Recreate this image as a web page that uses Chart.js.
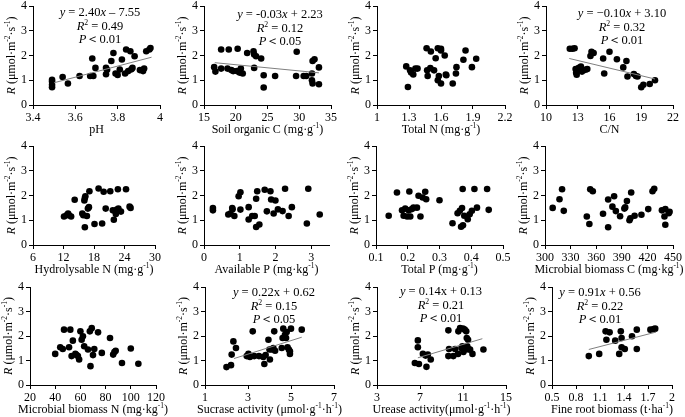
<!DOCTYPE html>
<html>
<head>
<meta charset="utf-8">
<script src="https://cdn.jsdelivr.net/npm/chart.js@4/dist/chart.umd.min.js"></script>
<style>
  html, body { margin: 0; padding: 0; background: #fff; }
  #wrap { position: relative; width: 685px; height: 417px; overflow: hidden; }
  canvas { position: absolute; }
</style>
</head>
<body>
<div id="wrap"></div>
<script>
// --- data: x = soil factor, R = soil respiration ---
const phX = [3.49, 3.49, 3.49, 3.49, 3.54, 3.565, 3.62, 3.67, 3.68, 3.685, 3.695, 3.745, 3.745, 3.75, 3.77, 3.78, 3.79, 3.80, 3.81, 3.82, 3.835, 3.84, 3.85, 3.86, 3.865, 3.87, 3.88, 3.905, 3.92, 3.925, 3.935, 3.95, 3.955];
const phR = [0.72, 0.82, 0.95, 1.02, 1.13, 0.87, 1.17, 1.17, 1.88, 1.17, 1.5, 1.24, 1.5, 1.42, 1.78, 2.1, 1.27, 1.21, 1.43, 1.84, 1.27, 2.24, 1.37, 2.17, 1.44, 1.5, 1.97, 1.41, 1.37, 1.47, 2.17, 2.24, 2.3];

const socX = [16.6, 16.8, 17.7, 17.7, 18.9, 18.7, 19.3, 19.6, 20.2, 20.3, 20.6, 20.8, 21.1, 21.8, 22.8, 22.9, 22.9, 23.2, 24.0, 24.4, 24.4, 26.2, 29.5, 29.6, 30.7, 31.1, 32.0, 32.1, 32.4, 32.0, 32.1, 33.1, 33.1];
const socR = [1.53, 1.35, 2.24, 1.47, 2.24, 1.47, 1.41, 1.37, 1.37, 2.27, 1.31, 1.47, 1.27, 2.1, 2.17, 2.04, 1.5, 1.97, 1.88, 1.2, 0.71, 1.17, 1.17, 2.15, 1.17, 1.17, 1.27, 1.78, 1.85, 1.0, 0.87, 1.52, 0.84];

const tnX = [1.274, 1.29, 1.31, 1.32, 1.34, 1.36, 1.38, 1.465, 1.47, 1.475, 1.50, 1.505, 1.535, 1.55, 1.57, 1.57, 1.58, 1.60, 1.60, 1.60, 1.635, 1.645, 1.65, 1.71, 1.74, 1.745, 1.81, 1.83, 1.89, 1.93];
const tnR = [1.56, 0.73, 1.4, 1.31, 1.23, 1.47, 1.47, 2.29, 1.4, 1.17, 1.49, 2.16, 1.4, 1.89, 2.29, 1.0, 1.17, 2.27, 2.2, 0.87, 2.0, 1.23, 1.2, 0.87, 1.27, 1.53, 1.83, 2.2, 1.53, 1.87];

const cnX = [12.25, 12.5, 12.7, 12.8, 12.85, 12.9, 12.95, 13.1, 13.2, 13.3, 13.4, 13.7, 13.9, 14.2, 14.3, 14.5, 15.4, 15.5, 16.0, 16.7, 17.3, 17.6, 17.7, 18.3, 18.5, 18.65, 19.0, 19.2, 19.8, 20.3];
const cnR = [2.27, 2.27, 2.29, 1.45, 1.3, 1.22, 1.38, 1.5, 1.42, 1.55, 1.35, 1.42, 1.45, 1.98, 2.15, 2.1, 1.88, 1.27, 2.15, 1.85, 1.52, 1.78, 1.15, 1.25, 1.17, 1.15, 0.72, 0.82, 0.85, 1.0];

const hnX = [12.1, 12.6, 12.9, 13.1, 13.5, 14.2, 15.7, 15.9, 16.1, 16.2, 16.3, 16.2, 16.6, 16.8, 17.0, 17.1, 18.1, 18.9, 19.6, 19.9, 20.3, 21.2, 21.7, 21.9, 22.3, 22.5, 22.7, 22.8, 23.3, 24.3, 25.0, 25.2];
const hnR = [1.15, 1.2, 1.27, 1.2, 1.15, 1.83, 1.27, 1.2, 1.8, 1.9, 1.97, 0.72, 1.17, 1.47, 1.53, 2.17, 0.85, 2.28, 0.87, 2.15, 1.47, 2.17, 1.4, 1.02, 1.25, 1.43, 2.25, 1.47, 1.35, 2.25, 1.55, 1.5];

const apX = [0.25, 0.25, 0.68, 0.74, 0.79, 0.8, 0.85, 0.97, 1.02, 1.02, 1.25, 1.25, 1.35, 1.42, 1.46, 1.49, 1.46, 1.55, 1.7, 1.76, 1.86, 1.88, 1.95, 2.0, 2.07, 2.2, 2.27, 2.37, 2.46, 2.88, 2.92, 3.24];
const apR = [1.49, 1.4, 1.23, 1.27, 1.49, 1.44, 1.17, 1.97, 2.13, 1.43, 1.53, 1.03, 1.17, 1.17, 1.87, 2.17, 0.73, 0.83, 2.23, 1.36, 2.17, 1.84, 1.27, 1.8, 1.44, 1.37, 2.27, 1.17, 1.53, 0.87, 2.27, 1.23];

const tpX = [0.14, 0.166, 0.182, 0.187, 0.192, 0.198, 0.203, 0.205, 0.208, 0.213, 0.218, 0.229, 0.234, 0.24, 0.247, 0.255, 0.258, 0.3, 0.341, 0.357, 0.364, 0.371, 0.373, 0.368, 0.374, 0.378, 0.389, 0.395, 0.402, 0.41, 0.418, 0.45, 0.455];
const tpR = [1.18, 2.12, 1.4, 1.18, 1.47, 1.15, 1.4, 2.16, 1.15, 1.45, 1.51, 1.51, 1.99, 1.15, 1.92, 2.15, 1.85, 1.81, 0.88, 1.28, 1.38, 1.49, 2.26, 0.74, 0.8, 1.18, 1.04, 1.24, 1.38, 2.26, 1.51, 2.26, 1.42];

const mbcX = [309, 317, 320, 322, 349, 352, 353, 356, 368, 374, 374, 379, 381, 383, 388, 393, 394, 396, 399, 400, 401, 405, 413, 421, 426, 428, 437, 440, 441, 441, 445, 446];
const mbcR = [1.5, 1.85, 2.25, 1.38, 1.15, 0.85, 2.25, 2.17, 1.26, 1.84, 0.72, 1.55, 1.97, 1.37, 1.16, 1.47, 1.52, 1.78, 1.0, 1.08, 2.12, 1.18, 1.22, 1.45, 2.17, 2.27, 1.4, 1.15, 1.45, 0.82, 1.28, 1.34];

const mbnX = [40, 44, 46, 47, 51, 52, 53, 54, 56, 57, 58, 59, 60, 61, 62, 63, 66, 67.5, 69, 68, 71, 70, 74, 77, 83.5, 86, 87, 88, 93, 100, 106];
const mbnR = [1.27, 1.54, 1.47, 2.26, 1.54, 2.26, 1.18, 1.81, 1.27, 1.22, 1.18, 1.04, 2.19, 1.85, 1.99, 1.58, 1.45, 2.19, 2.32, 0.77, 1.47, 1.22, 2.15, 1.31, 1.92, 1.24, 1.35, 1.4, 0.9, 1.49, 0.87];

const sucX = [2.0, 2.21, 2.24, 2.32, 2.44, 2.94, 3.02, 3.09, 3.22, 3.29, 3.51, 3.71, 3.76, 3.82, 3.95, 4.0, 4.02, 4.1, 4.18, 4.22, 4.26, 4.57, 4.61, 4.64, 4.72, 4.77, 4.8, 4.84, 4.9, 4.95, 4.95, 5.0, 5.5];
const sucR = [0.73, 0.81, 1.24, 1.78, 1.51, 1.18, 1.27, 1.14, 2.19, 1.18, 1.18, 1.14, 0.86, 1.22, 1.85, 1.45, 1.04, 1.45, 1.51, 2.19, 1.4, 1.51, 1.92, 2.3, 2.05, 1.92, 2.16, 1.54, 1.45, 1.27, 1.38, 2.3, 2.26];

const ureX = [6.52, 6.9, 6.8, 6.8, 7.27, 7.52, 7.73, 7.6, 8.0, 9.64, 9.64, 9.7, 10.1, 10.26, 10.54, 10.57, 10.73, 10.85, 10.94, 11.0, 11.04, 11.16, 11.25, 11.3, 11.35, 11.4, 11.47, 11.57, 11.66, 11.88, 12.9];
const ureR = [0.9, 0.86, 1.54, 1.82, 1.27, 1.2, 1.24, 0.74, 1.04, 2.23, 1.18, 1.47, 1.18, 1.47, 1.27, 2.19, 2.32, 1.51, 1.58, 2.3, 1.35, 2.26, 1.45, 2.19, 1.92, 1.58, 1.85, 1.45, 1.45, 1.27, 1.45];

const frbX = [0.96, 1.09, 1.17, 1.18, 1.22, 1.29, 1.34, 1.36, 1.37, 1.37, 1.41, 1.5, 1.56, 1.56, 1.73, 1.77, 1.79];
const frbR = [1.18, 1.27, 2.19, 1.85, 2.15, 1.81, 1.27, 2.19, 1.92, 1.54, 1.47, 1.99, 2.26, 1.47, 2.26, 2.28, 2.3];

// fitted lines, two ends each (x, R)
const phFitX = [3.5, 3.96], phFitR = [0.9, 1.93];
const socFitX = [16.7, 33.1], socFitR = [1.71, 1.30];
const cnFitX = [12.2, 20.3], cnFitR = [1.88, 1.05];
const sucFitX = [2.35, 5.5], sucFitR = [1.08, 1.95];
const ureFitX = [6.8, 12.8], ureFitR = [1.11, 1.89];
const frbFitX = [0.96, 1.8], frbFitR = [1.45, 2.16];

const yTitle = '_R_ (μmol·m^{-2}·s^{-1})';

// box = plot area on the page [left, top, right, bottom]
const panels = [
  { x: phX, y: phR, fx: phFitX, fy: phFitR, min: 3.4, max: 4, step: 0.2, title: 'pH', box: [33, 6, 160, 105],
    eq: ['_y_ = 2.40_x_ – 7.55', '_R_^{2} = 0.49', '_P_＜0.01'], eqX: 67, eqY: 7 },
  { x: socX, y: socR, fx: socFitX, fy: socFitR, min: 15, max: 35, step: 5, title: 'Soil organic C (mg·g^{-1})', box: [204, 6, 331, 105],
    eq: ['_y_ = -0.03_x_ + 2.23', '_R_^{2} = 0.12', '_P_＜0.05'], eqX: 76, eqY: 9 },
  { x: tnX, y: tnR, min: 1, max: 2.2, step: 0.3, title: 'Total N (mg·g^{-1})', box: [377, 6, 505, 105] },
  { x: cnX, y: cnR, fx: cnFitX, fy: cnFitR, min: 10, max: 22, step: 3, title: 'C/N', box: [546, 6, 673, 105],
    eq: ['_y_ = −0.10_x_ + 3.10', '_R_^{2} = 0.32', '_P_＜0.01'], eqX: 76, eqY: 8 },
  { x: hnX, y: hnR, min: 6, max: 30, step: 6, title: 'Hydrolysable N (mg·g^{-1})', box: [33, 146, 155, 245] },
  { x: apX, y: apR, min: 0, max: 3.5, step: 1, title: 'Available P (mg·kg^{-1})', box: [204, 146, 329, 245] },
  { x: tpX, y: tpR, min: 0.1, max: 0.5, step: 0.1, title: 'Total P (mg·g^{-1})', box: [376, 146, 503, 245] },
  { x: mbcX, y: mbcR, min: 300, max: 450, step: 30, title: 'Microbial biomass C (mg·kg^{-1})', box: [545, 146, 673, 245] },
  { x: mbnX, y: mbnR, min: 20, max: 120, step: 20, title: 'Microbial biomass N (mg·kg^{-1})', box: [30, 287, 156, 385] },
  { x: sucX, y: sucR, fx: sucFitX, fy: sucFitR, min: 1, max: 7, step: 2, title: 'Sucrase activity (μmol·g^{-1}·h^{-1})', box: [205, 287, 334, 385],
    eq: ['_y_ = 0.22x + 0.62', '_R_^{2} = 0.15', '_P_＜0.05'], eqX: 69, eqY: 6 },
  { x: ureX, y: ureR, fx: ureFitX, fy: ureFitR, min: 3, max: 15, step: 4, title: 'Urease activity(μmol·g^{-1}·h^{-1})', box: [377, 287, 506, 385],
    eq: ['_y_ = 0.14x + 0.13', '_R_^{2} = 0.21', '_P_＜0.01'], eqX: 64, eqY: 5 },
  { x: frbX, y: frbR, fx: frbFitX, fy: frbFitR, min: 0.5, max: 2, step: 0.3, title: 'Fine root biomass (t·ha^{-1})', box: [552, 287, 672, 385],
    eq: ['_y_ = 0.91_x_ + 0.56', '_R_^{2} = 0.22', '_P_＜0.01'], eqX: 48, eqY: 6 }
];

const FONT = '"Liberation Serif", "Times New Roman", "DejaVu Serif", serif';

// _text_ = italic, ^{text} = superscript
function parseRich(s) {
  const segs = [];
  let buf = '', ital = false, i = 0;
  while (i < s.length) {
    const c = s[i];
    if (c === '_') {
      if (buf) segs.push({ t: buf, it: ital, sup: false });
      buf = ''; ital = !ital; i++;
    } else if (c === '^' && s[i + 1] === '{') {
      if (buf) segs.push({ t: buf, it: ital, sup: false });
      buf = '';
      const j = s.indexOf('}', i);
      segs.push({ t: s.slice(i + 2, j), it: ital, sup: true });
      i = j + 1;
    } else { buf += c; i++; }
  }
  if (buf) segs.push({ t: buf, it: ital, sup: false });
  return segs;
}

function drawRich(ctx, s, x, y, size) {
  const segs = parseRich(s);
  const fontOf = g => (g.it ? 'italic ' : '') + (g.sup ? size * 0.62 : size) + 'px ' + FONT;
  let w = 0;
  segs.forEach(g => { ctx.font = fontOf(g); g.w = ctx.measureText(g.t).width; w += g.w; });
  let cx = x - w / 2;
  ctx.textBaseline = 'middle';
  ctx.textAlign = 'left';
  ctx.fillStyle = '#000';
  segs.forEach(g => {
    ctx.font = fontOf(g);
    ctx.fillText(g.t, cx, g.sup ? y - size * 0.32 : y);
    cx += g.w;
  });
}

const panelText = {
  id: 'panelText',
  afterDraw(chart, args, o) {
    const { ctx, chartArea: a } = chart;
    ctx.save();
    ctx.translate(a.left - 21, (a.top + a.bottom) / 2);
    ctx.rotate(-Math.PI / 2);
    drawRich(ctx, yTitle, 0, 0, 12);
    ctx.restore();
    ctx.save();
    drawRich(ctx, o.title, (a.left + a.right) / 2, a.bottom + 25, 12);
    if (o.eq) {
      o.eq.forEach((ln, k) => drawRich(ctx, ln, a.left + o.eqX, a.top + o.eqY + k * 13.5, 12.5));
    }
    ctx.restore();
  }
};

const wrap = document.getElementById('wrap');
const tickFont = { family: FONT, size: 12 };

panels.forEach(p => {
  const [l, t, r, b] = p.box;
  const cv = document.createElement('canvas');
  const w = r - l + 60, h = b - t + 55;
  cv.width = w; cv.height = h;
  cv.style.left = (l - 40) + 'px';
  cv.style.top = (t - 15) + 'px';
  cv.style.width = w + 'px';
  cv.style.height = h + 'px';
  wrap.appendChild(cv);

  const datasets = [];
  if (p.fx) {
    datasets.push({
      data: p.fx.map((v, i) => ({ x: v, y: p.fy[i] })),
      showLine: true, borderColor: '#7f7f7f', borderWidth: 1, pointRadius: 0, order: 0
    });
  }
  datasets.push({
    data: p.x.map((v, i) => ({ x: v, y: p.y[i] })),
    pointRadius: 3.3, pointBackgroundColor: '#000', pointBorderWidth: 0, order: 1
  });

  const axisCommon = {
    grid: { drawOnChartArea: false, drawTicks: true, tickLength: 4, color: '#000' },
    border: { display: true, color: '#000', width: 1 }
  };

  new Chart(cv, {
    type: 'scatter',
    data: { datasets },
    options: {
      responsive: false,
      animation: false,
      events: [],
      layout: { padding: { top: 15, right: 20, left: 0, bottom: 0 } },
      plugins: {
        legend: { display: false },
        tooltip: { enabled: false },
        panelText: { title: p.title, eq: p.eq, eqX: p.eqX, eqY: p.eqY }
      },
      scales: {
        x: Object.assign({
          type: 'linear', min: p.min, max: p.max,
          afterFit(s) { s.height = 40; },
          ticks: { stepSize: p.step, includeBounds: false, color: '#000', font: tickFont, padding: 2,
                   maxRotation: 0, autoSkip: false, callback: v => String(+v.toFixed(2)) }
        }, axisCommon),
        y: Object.assign({
          type: 'linear', min: 0, max: 4,
          afterFit(s) { s.width = 40; },
          ticks: { stepSize: 1, color: '#000', font: tickFont, padding: 2, callback: v => String(v) }
        }, axisCommon)
      }
    },
    plugins: [panelText]
  });
});
</script>
</body>
</html>
